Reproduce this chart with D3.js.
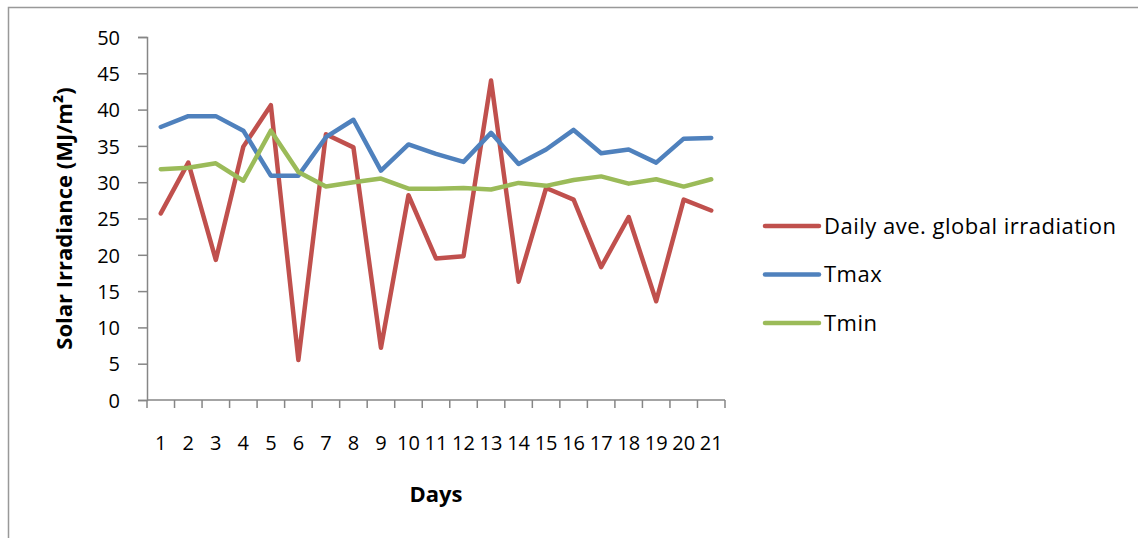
<!DOCTYPE html>
<html>
<head>
<meta charset="utf-8">
<script src="https://cdn.jsdelivr.net/npm/d3@7"></script>
<style>
  body { margin: 0; background: #fff; }
  text { font-family: "Open Sans", sans-serif; fill: #000; }
</style>
</head>
<body>
<div id="chart"></div>
<script>
const days = ["1","2","3","4","5","6","7","8","9","10","11","12","13","14","15","16","17","18","19","20","21"];
const irradiation = [25.7,32.7,19.3,34.9,40.6,5.5,36.6,34.8,7.2,28.2,19.5,19.8,44.0,16.3,29.2,27.6,18.3,25.2,13.6,27.6,26.1];
const tmax = [37.6,39.1,39.1,37.1,30.9,30.9,36.2,38.6,31.6,35.2,33.9,32.8,36.8,32.5,34.5,37.2,34.0,34.5,32.7,36.0,36.1];
const tmin = [31.8,32.0,32.6,30.2,37.1,31.4,29.4,30.0,30.5,29.1,29.1,29.2,29.0,29.9,29.5,30.3,30.8,29.8,30.4,29.4,30.4];
const yTicks = [0,5,10,15,20,25,30,35,40,45,50];

const series = [
  { name: "Daily ave. global irradiation", values: irradiation, color: "#c0504d" },
  { name: "Tmax", values: tmax, color: "#4f81bd" },
  { name: "Tmin", values: tmin, color: "#9bbb59" }
];

let width = 1138,
  height = 538,
  margin = ({ top: 37, right: 413, bottom: 138, left: 147 });

const svg = d3.select("#chart")
  .append("svg")
  .attr("width", width)
  .attr("height", height);

// outer frame (partly cropped in the original)
svg.append("path")
  .attr("d", `M8.5,${height} V7.5 H${width}`)
  .attr("fill", "none")
  .attr("stroke", "#999")
  .attr("stroke-width", 1.5);

let x = d3.scaleBand()
  .domain(days)
  .range([margin.left, width - margin.right]);

let y = d3.scaleLinear()
  .domain([0, 50])
  .range([height - margin.bottom, margin.top]);

// x axis: ticks on band boundaries
const xAxis = svg.append("g")
  .attr("transform", `translate(0,${height - margin.bottom})`);
xAxis.append("line")
  .attr("x1", margin.left).attr("x2", width - margin.right)
  .attr("stroke", "#868686").attr("stroke-width", 1.5);
xAxis.selectAll("line.tick")
  .data(d3.range(days.length + 1))
  .join("line")
  .attr("class", "tick")
  .attr("x1", i => margin.left + i * x.step())
  .attr("x2", i => margin.left + i * x.step())
  .attr("y1", 0).attr("y2", 8)
  .attr("stroke", "#868686").attr("stroke-width", 1.5);
xAxis.selectAll("text")
  .data(days)
  .join("text")
  .attr("x", d => x(d) + x.bandwidth() / 2)
  .attr("y", 50)
  .attr("text-anchor", "middle")
  .attr("font-size", 20)
  .text(d => d);

svg.append("g")
  .attr("transform", `translate(${margin.left},0)`)
  .call(d3.axisLeft(y).tickValues(yTicks).tickSize(9).tickPadding(18))
  .call(g => g.selectAll("line, path").attr("stroke", "#868686").attr("stroke-width", 1.5))
  .call(g => g.selectAll("text").attr("font-size", 20).attr("font-family", "Open Sans").attr("dy", "0.36em"));

let line = d3.line()
  .x((d, i) => x(days[i]) + x.bandwidth() / 2)
  .y(d => y(d));

for (let s of series) {
  svg.append("path")
    .datum(s.values)
    .attr("fill", "none")
    .attr("stroke", s.color)
    .attr("stroke-width", 4.5)
    .attr("stroke-linejoin", "round")
    .attr("stroke-linecap", "round")
    .attr("d", line);
}

// axis titles
svg.append("text")
  .attr("x", (margin.left + width - margin.right) / 2)
  .attr("y", 502)
  .attr("text-anchor", "middle")
  .attr("font-size", 22)
  .attr("font-weight", "bold")
  .text("Days");

svg.append("text")
  .attr("transform", `translate(72,${(y(0) + y(50)) / 2}) rotate(-90)`)
  .attr("text-anchor", "middle")
  .attr("font-size", 22)
  .attr("font-weight", "bold")
  .text("Solar Irradiance (MJ/m²)");

// legend
const legend = svg.append("g")
  .attr("transform", "translate(765,226)");
const item = legend.selectAll("g")
  .data(series)
  .join("g")
  .attr("transform", (d, i) => `translate(0,${i * 48.5})`);
item.append("line")
  .attr("x1", 0).attr("x2", 54)
  .attr("stroke", d => d.color)
  .attr("stroke-width", 4.5)
  .attr("stroke-linecap", "round");
item.append("text")
  .attr("x", 59)
  .attr("dy", "0.36em")
  .attr("font-size", 22)
  .attr("letter-spacing", 0.5)
  .text(d => d.name);
</script>
</body>
</html>
